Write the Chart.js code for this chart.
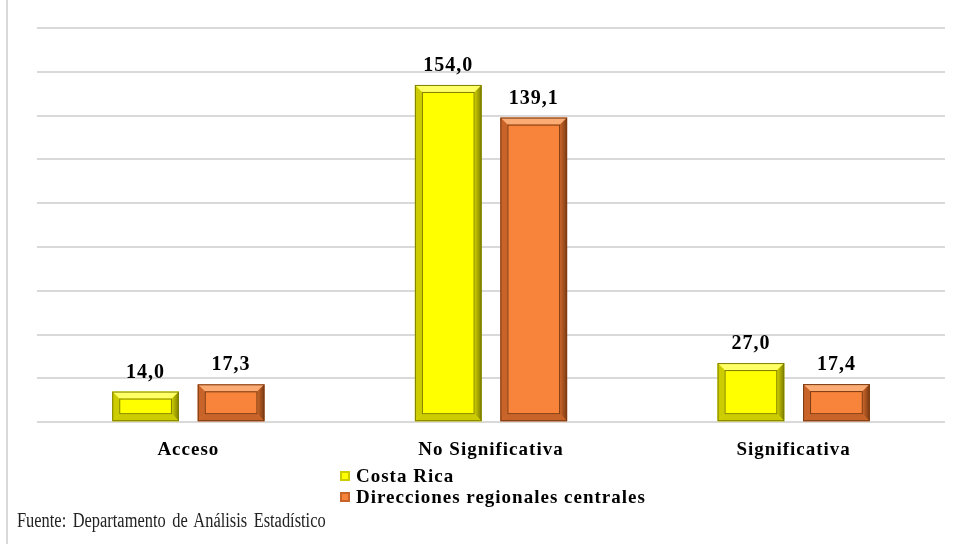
<!DOCTYPE html>
<html>
<head>
<meta charset="utf-8">
<script src="https://cdn.jsdelivr.net/npm/chart.js@4.4.1/dist/chart.umd.min.js"></script>
<style>
  html, body { margin: 0; padding: 0; background: #fff; }
  #wrap { position: relative; width: 964px; height: 544px; overflow: hidden; }
  #frame { position: absolute; left: 6px; top: 0; width: 2px; height: 544px; background: #d9d9d9; }
  #myChart { position: absolute; left: 0; top: 0; }
  #legend { position: absolute; left: 340px; top: 465px; font: bold 19px "Liberation Serif", serif; color: #000; letter-spacing: 1px; }
  #legend div { height: 21px; line-height: 21px; white-space: nowrap; }
  #legend span { display: inline-block; width: 10px; height: 10px; margin-right: 6px; vertical-align: 1px; box-sizing: border-box; }
  #source { position: absolute; left: 17px; top: 509px; font: 20px "Liberation Serif", serif; line-height: 22px; color: #222;
            word-spacing: 3px; transform: scaleX(0.82); transform-origin: left top; white-space: nowrap; }
</style>
</head>
<body>
<div id="wrap">
  <div id="frame"></div>
  <canvas id="myChart" width="964" height="544"></canvas>
  <div id="legend"></div>
  <div id="source">Fuente: Departamento de Análisis Estadístico</div>
</div>
<script>
const categories = ['Acceso', 'No Significativa', 'Significativa'];
const seriesNames = ['Costa Rica', 'Direcciones regionales centrales'];
const costaRica = [14.0, 154.0, 27.0];
const direcciones = [17.3, 139.1, 17.4];
const yTicks = [0, 20, 40, 60, 80, 100, 120, 140, 160, 180];

const fills = ['#ffff00', '#f8843b'];
const light = ['#ffff66', '#fbab74'];
const mid = ['#cccc00', '#c8642a'];
const dark = ['#7d7d00', '#7a3a12'];

// wider letter spacing, like the original's bold serif text
const spacingPlugin = {
    id: 'spacing',
    beforeDraw(chart) { chart.ctx.letterSpacing = '1px'; }
};

// draws the bevel look over each bar, using the bar geometry from chart.js
const bevelPlugin = {
    id: 'bevel',
    afterDatasetsDraw(chart) {
        const ctx = chart.ctx;
        chart.data.datasets.forEach((ds, di) => {
            const meta = chart.getDatasetMeta(di);
            meta.data.forEach((bar, i) => {
                const l = bar.x - bar.width / 2, r = bar.x + bar.width / 2;
                const t = bar.y, b = bar.base;
                const w = Math.min(7, (b - t) / 3);
                ctx.save();
                // top band
                ctx.fillStyle = light[di];
                ctx.beginPath();
                ctx.moveTo(l, t); ctx.lineTo(r, t); ctx.lineTo(r - w, t + w); ctx.lineTo(l + w, t + w); ctx.closePath(); ctx.fill();
                // left band
                ctx.fillStyle = mid[di];
                ctx.beginPath();
                ctx.moveTo(l, t); ctx.lineTo(l + w, t + w); ctx.lineTo(l + w, b - w); ctx.lineTo(l, b); ctx.closePath(); ctx.fill();
                // right band
                const g = ctx.createLinearGradient(r - w, 0, r, 0);
                g.addColorStop(0, mid[di]); g.addColorStop(1, dark[di]);
                ctx.fillStyle = g;
                ctx.beginPath();
                ctx.moveTo(r, t); ctx.lineTo(r, b); ctx.lineTo(r - w, b - w); ctx.lineTo(r - w, t + w); ctx.closePath(); ctx.fill();
                // bottom band
                ctx.fillStyle = mid[di];
                ctx.beginPath();
                ctx.moveTo(l, b); ctx.lineTo(r, b); ctx.lineTo(r - w, b - w); ctx.lineTo(l + w, b - w); ctx.closePath(); ctx.fill();
                // inner edge + outline
                ctx.strokeStyle = dark[di];
                ctx.lineWidth = 1;
                ctx.strokeRect(l + w + 0.5, t + w + 0.5, r - l - 2 * w - 1, b - t - 2 * w - 1);
                ctx.strokeRect(l + 0.5, t + 0.5, r - l - 1, b - t - 1);
                ctx.restore();

                // value label
                ctx.save();
                ctx.font = 'bold 20px "Liberation Serif", serif';
                ctx.fillStyle = '#000';
                ctx.textAlign = 'center';
                ctx.textBaseline = 'alphabetic';
                ctx.fillText(ds.data[i].toFixed(1).replace('.', ','), bar.x, t - 14);
                ctx.restore();
            });
        });
    }
};

const ctx = document.getElementById('myChart').getContext('2d');
const myChart = new Chart(ctx, {
    type: 'bar',
    data: {
        labels: categories,
        datasets: [
            { label: seriesNames[0], data: costaRica, backgroundColor: fills[0] },
            { label: seriesNames[1], data: direcciones, backgroundColor: fills[1] }
        ]
    },
    options: {
        responsive: false,
        animation: false,
        events: [],
        datasets: { bar: { categoryPercentage: 0.565, barPercentage: 0.78 } },
        layout: { padding: { left: 37, right: 19, top: 28, bottom: 75 } },
        scales: {
            x: {
                grid: { display: false },
                border: { display: false },
                ticks: {
                    color: '#000',
                    padding: 8,
                    font: { family: '"Liberation Serif", serif', size: 19, weight: 'bold' }
                }
            },
            y: {
                min: 0,
                max: 180,
                afterBuildTicks: axis => { axis.ticks = yTicks.map(v => ({ value: v })); },
                ticks: { display: false },
                border: { display: false },
                grid: { color: '#d9d9d9', lineWidth: 2, drawTicks: false }
            }
        },
        plugins: {
            legend: { display: false },
            tooltip: { enabled: false }
        }
    },
    plugins: [spacingPlugin, bevelPlugin]
});

// legend as html so both rows line up on the left
const legendEl = document.getElementById('legend');
myChart.data.datasets.forEach((ds, i) => {
    const row = document.createElement('div');
    row.innerHTML = '<span style="background:' + fills[i] + ';border:2px solid ' + mid[i] + '"></span>' + ds.label;
    legendEl.appendChild(row);
});
</script>
</body>
</html>
